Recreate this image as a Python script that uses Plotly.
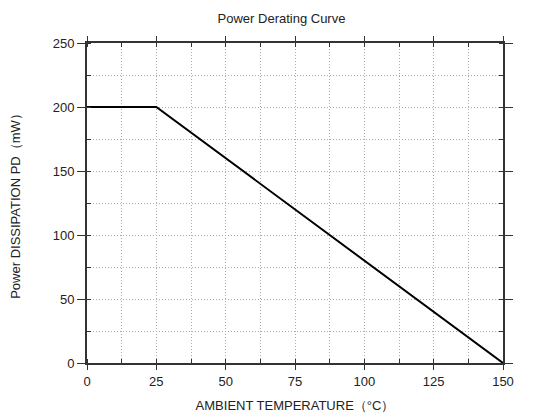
import plotly.graph_objects as go

temperature = [0, 25, 150]
power_mw = [200, 200, 0]
x_ticks = [0, 25, 50, 75, 100, 125, 150]
y_ticks = [0, 50, 100, 150, 200, 250]

fig = go.Figure()
fig.add_trace(go.Scatter(x=temperature, y=power_mw, mode="lines",
                         line=dict(color="black", width=2), showlegend=False))

FAM = "Liberation Sans, Arial, sans-serif"
font = dict(family=FAM, size=13, color="#222")
grid = dict(showgrid=True, gridcolor="#aaa", griddash="1px,2px", gridwidth=1)
axis_common = dict(showline=True, linecolor="#333", linewidth=2, mirror="ticks",
                   ticks="outside", tickcolor="#333", tickwidth=1,
                   zeroline=False, automargin=False,
                   tickfont=dict(size=13, color="#222", family=FAM), **grid)

fig.update_xaxes(range=[0, 150], tickvals=x_ticks, ticktext=[str(v) for v in x_ticks],
                 ticklen=5,
                 minor=dict(dtick=12.5, tick0=0, ticks="inside", ticklen=4, tickcolor="#333", **grid),
                 title=dict(text="AMBIENT TEMPERATURE（°C）", font=font, standoff=13),
                 **axis_common)
fig.update_yaxes(range=[0, 250], tickvals=y_ticks, ticktext=[str(v) for v in y_ticks],
                 ticklen=8,
                 minor=dict(dtick=25, tick0=0, ticks="inside", ticklen=4, tickcolor="#333", **grid),
                 title=dict(text="Power DISSIPATION PD（mW）", font=font, standoff=30),
                 **axis_common)

fig.update_layout(width=547, height=417, margin=dict(l=79, r=52, t=35, b=62),
                  plot_bgcolor="white", paper_bgcolor="white",
                  title=dict(text="Power Derating Curve", x=0.5, xanchor="center",
                             y=1 - 10 / 417, yanchor="middle",
                             font=dict(family=FAM, size=13, color="#222")),
                  font=font)
fig.write_html("out.html")
